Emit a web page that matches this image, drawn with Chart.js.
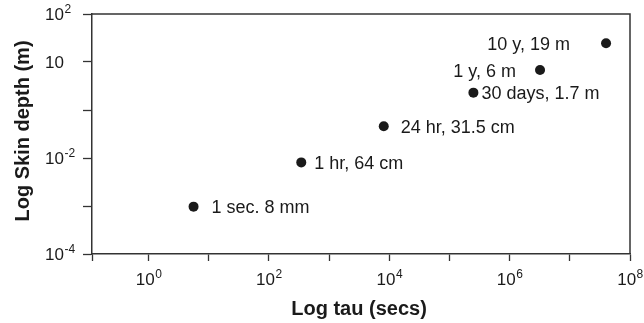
<!DOCTYPE html>
<html>
<head>
<meta charset="utf-8">
<script src="https://cdn.jsdelivr.net/npm/chart.js@4"></script>
<style>
  html, body { margin: 0; padding: 0; background: #fff; }
  #wrap { width: 644px; height: 323px; }
</style>
</head>
<body>
<div id="wrap"><canvas id="myChart"></canvas></div>
<script>
// values (positions as drawn)
const pointLabels = ["1 sec. 8 mm", "1 hr, 64 cm", "24 hr, 31.5 cm", "30 days, 1.7 m", "1 y, 6 m", "10 y, 19 m"];
const tau = [5.6, 345, 8100, 2.5e5, 3.2e6, 4.0e7];
const depth = [9.7e-4, 8.1e-3, 0.046, 0.23, 0.68, 2.45];

const xTicks = [1, 10, 100, 1e3, 1e4, 1e5, 1e6, 1e7, 1e8];
const xTickLabels = ["10^0", "", "10^2", "", "10^4", "", "10^6", "", "10^8"];
const yTicks = [1e-4, 1e-3, 1e-2, 1e-1, 1, 10];
const yTickLabels = ["10^-4", "", "10^-2", "", "10", "10^2"];

const xMin = 0.115, xMax = 1e8;
const yMin = 1e-4, yMax = 10;

// where each text sits next to its dot
const labelPlace = [
    { side: "right", dx: 18 },
    { side: "right", dx: 13 },
    { side: "right", dx: 17 },
    { side: "right", dx: 8 },
    { side: "left", dx: -24 },
    { side: "left", dx: -36 }
];

const FONT = '"Liberation Sans", Arial, sans-serif';
const INK = '#1a1a1a';
const AXIS = '#333';

function drawPow(ctx, text, x, y, align) {
    // base + raised exponent, text like "10^-2"
    let parts = text.split("^");
    let base = parts[0], exp = parts[1] || "";
    ctx.font = `17px ${FONT}`;
    let wb = ctx.measureText(base).width;
    ctx.font = `12px ${FONT}`;
    let we = ctx.measureText(exp).width;
    let start;
    if (align === "center") start = x - (wb + we) / 2;
    else start = x - wb; // base right edge at x
    ctx.textAlign = "left";
    ctx.textBaseline = "alphabetic";
    ctx.font = `17px ${FONT}`;
    ctx.fillText(base, start, y);
    if (exp) {
        ctx.font = `12px ${FONT}`;
        ctx.fillText(exp, start + wb + 0.5, y - 7);
    }
}

const textPlugin = {
    id: 'textPlugin',
    afterDraw(chart) {
        let ctx = chart.ctx;
        let area = chart.chartArea;
        let xs = chart.scales.x, ys = chart.scales.y;
        ctx.save();

        // frame top and right
        ctx.strokeStyle = AXIS;
        ctx.lineWidth = 1.5;
        ctx.beginPath();
        ctx.moveTo(area.left, area.top);
        ctx.lineTo(area.right, area.top);
        ctx.lineTo(area.right, area.bottom);
        ctx.stroke();

        ctx.fillStyle = INK;

        xTicks.forEach((v, i) => {
            if (!xTickLabels[i]) return;
            drawPow(ctx, xTickLabels[i], xs.getPixelForValue(v), area.bottom + 31, "center");
        });
        yTicks.forEach((v, i) => {
            if (!yTickLabels[i]) return;
            drawPow(ctx, yTickLabels[i], 64, ys.getPixelForValue(v) + 6, "right");
        });

        // axis titles
        ctx.font = `bold 20px ${FONT}`;
        ctx.textAlign = "center";
        ctx.textBaseline = "alphabetic";
        ctx.fillText("Log tau (secs)", (area.left + area.right) / 2 - 2, 315);
        ctx.save();
        ctx.translate(29, (area.top + area.bottom) / 2 - 3);
        ctx.rotate(-Math.PI / 2);
        ctx.fillText("Log Skin depth (m)", 0, 0);
        ctx.restore();

        // point labels
        ctx.font = `18px ${FONT}`;
        let meta = chart.getDatasetMeta(0);
        meta.data.forEach((pt, i) => {
            let p = labelPlace[i];
            ctx.textAlign = p.side === "right" ? "left" : "right";
            ctx.fillText(pointLabels[i], pt.x + p.dx, pt.y + 6.5);
        });
        ctx.restore();
    }
};

document.addEventListener('DOMContentLoaded', () => {
    let ctx = document.querySelector('#myChart').getContext('2d');
    new Chart(ctx, {
        type: 'scatter',
        data: {
            datasets: [{
                data: tau.map((t, i) => ({ x: t, y: depth[i] })),
                backgroundColor: INK,
                borderWidth: 0,
                pointRadius: 5,
                pointHoverRadius: 5,
                clip: false
            }]
        },
        options: {
            responsive: true,
            maintainAspectRatio: false,
            animation: false,
            events: [],
            layout: { padding: { left: 0, top: 14, right: 14, bottom: 0 } },
            plugins: {
                legend: { display: false },
                tooltip: { enabled: false }
            },
            scales: {
                x: {
                    type: 'logarithmic',
                    min: xMin,
                    max: xMax,
                    afterBuildTicks: s => { s.ticks = [xMin].concat(xTicks).map(v => ({ value: v })); },
                    afterFit: s => { s.height = 69; },
                    ticks: { display: false },
                    grid: { drawOnChartArea: false, drawTicks: true, tickLength: 7, tickColor: AXIS, tickWidth: 1.3 },
                    border: { display: true, color: AXIS, width: 1.5 }
                },
                y: {
                    type: 'logarithmic',
                    min: yMin,
                    max: yMax,
                    afterBuildTicks: s => { s.ticks = yTicks.map(v => ({ value: v })); },
                    afterFit: s => { s.width = 92; },
                    ticks: { display: false },
                    grid: { drawOnChartArea: false, drawTicks: true, tickLength: 9, tickColor: AXIS, tickWidth: 1.3 },
                    border: { display: true, color: AXIS, width: 1.5 }
                }
            }
        },
        plugins: [textPlugin]
    });
});
</script>
</body>
</html>
